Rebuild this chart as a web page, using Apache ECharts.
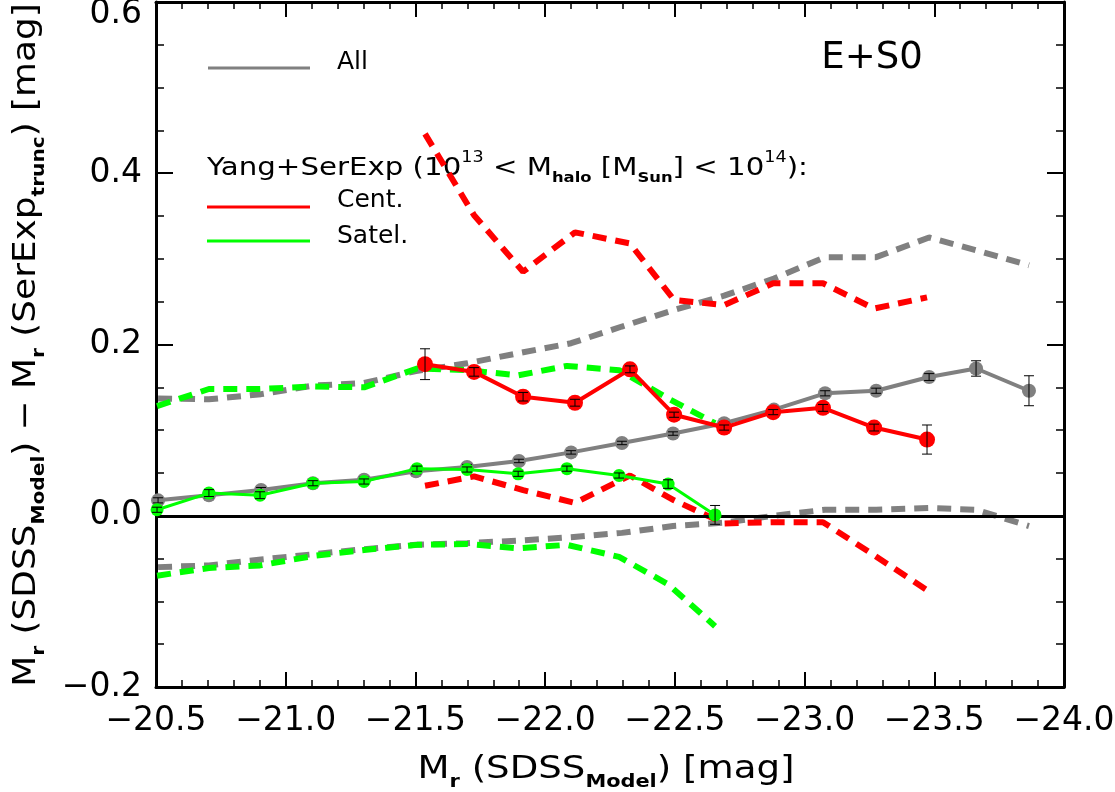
<!DOCTYPE html>
<html>
<head>
<meta charset="utf-8">
<script src="https://cdn.jsdelivr.net/npm/echarts@6/dist/echarts.min.js"></script>
<style>
  html, body { margin: 0; padding: 0; background: #fff; }
  #chart { width: 1115px; height: 792px; }
</style>
</head>
<body>
<div id="chart"></div>
<script>
// All galaxies (gray)
var xAll = [-20.508, -20.704, -20.905, -21.105, -21.302, -21.502, -21.699, -21.899, -22.10, -22.296, -22.493, -22.69, -22.882, -23.079, -23.276, -23.48, -23.661, -23.865];
var yAll = [0.018, 0.024, 0.030, 0.038, 0.042, 0.052, 0.057, 0.064, 0.074, 0.085, 0.096, 0.108, 0.124, 0.143, 0.146, 0.162, 0.172, 0.146];
var errAll = [0.003, 0.003, 0.003, 0.003, 0.003, 0.003, 0.003, 0.002, 0.002, 0.002, 0.002, 0.002, 0.002, 0.003, 0.003, 0.004, 0.009, 0.0175];
var hiAll = [0.137, 0.136, 0.142, 0.152, 0.155, 0.169, 0.178, 0.19, 0.2015, 0.221, 0.240, 0.257, 0.277, 0.302, 0.302, 0.325, 0.31, 0.2925];
var loAll = [-0.060, -0.058, -0.051, -0.045, -0.039, -0.034, -0.032, -0.029, -0.025, -0.020, -0.012, -0.008, 0.000, 0.007, 0.007, 0.009, 0.007, -0.012];

// centrals (red)
var xCen = [-21.537, -21.726, -21.915, -22.115, -22.327, -22.497, -22.69, -22.879, -23.071, -23.268, -23.472];
var yCen = [0.177, 0.168, 0.139, 0.132, 0.171, 0.118, 0.103, 0.121, 0.126, 0.103, 0.089];
var errCen = [0.018, 0.005, 0.005, 0.004, 0.004, 0.003, 0.003, 0.003, 0.004, 0.004, 0.017];
var hiCen = [0.446, 0.351, 0.285, 0.331, 0.318, 0.252, 0.246, 0.2715, 0.2715, 0.242, 0.255];
var loCen = [0.035, 0.046, 0.030, 0.015, 0.047, 0.018, -0.009, -0.0075, -0.0075, -0.046, -0.087];

// satellites (green)
var xSat = [-20.504, -20.704, -20.901, -21.105, -21.302, -21.506, -21.699, -21.896, -22.084, -22.285, -22.474, -22.655];
var ySat = [0.007, 0.0265, 0.024, 0.038, 0.040, 0.055, 0.054, 0.049, 0.055, 0.047, 0.037, 0.001];
var errSat = [0.003, 0.004, 0.004, 0.003, 0.003, 0.003, 0.003, 0.003, 0.003, 0.003, 0.005, 0.011];
var hiSat = [0.128, 0.148, 0.148, 0.151, 0.150, 0.172, 0.170, 0.164, 0.175, 0.170, 0.137, 0.108];
var loSat = [-0.070, -0.061, -0.058, -0.047, -0.040, -0.034, -0.033, -0.038, -0.034, -0.048, -0.080, -0.129];

var GRAY = '#808080', RED = '#ff0000', GREEN = '#00ff00';
var FONT = 'DejaVu Sans';

function pairs(xs, ys) {
  return xs.map(function (x, i) { return [x, ys[i]]; });
}
function triples(xs, ys, es) {
  return xs.map(function (x, i) { return [x, ys[i], es[i]]; });
}
function fmt(v) {
  return (v < 0 ? '\u2212' : '') + Math.abs(v).toFixed(1);
}

function dashed(xs, ys, color, z) {
  return {
    type: 'line', data: pairs(xs, ys), symbol: 'none', z: z,
    lineStyle: { color: color, width: 6, type: [14, 9] }
  };
}
function solid(xs, ys, color, size, width, z) {
  return {
    type: 'line', data: pairs(xs, ys), symbol: 'circle', symbolSize: size, z: z,
    lineStyle: { color: color, width: width },
    itemStyle: { color: color }
  };
}
function errbars(xs, ys, es, z) {
  return {
    type: 'custom', z: z,
    data: triples(xs, ys, es),
    renderItem: function (params, api) {
      var x = api.value(0), y = api.value(1), e = api.value(2);
      var t = api.coord([x, y + e]), b = api.coord([x, y - e]);
      var st = { stroke: '#000', lineWidth: 1 };
      return {
        type: 'group',
        children: [
          { type: 'line', shape: { x1: t[0], y1: t[1], x2: b[0], y2: b[1] }, style: st },
          { type: 'line', shape: { x1: t[0] - 5, y1: t[1], x2: t[0] + 5, y2: t[1] }, style: st },
          { type: 'line', shape: { x1: b[0] - 5, y1: b[1], x2: b[0] + 5, y2: b[1] }, style: st }
        ]
      };
    }
  };
}

var chart = echarts.init(document.getElementById('chart'));

var xBase = {
  type: 'value', min: -24, max: -20.5, interval: 0.5, inverse: true,
  splitLine: { show: false },
  axisLine: { show: true, onZero: false, lineStyle: { color: '#000', width: 3 } },
  axisTick: { show: true, inside: true, length: 15, lineStyle: { color: '#000', width: 2 } },
  minorTick: { show: true, splitNumber: 5, length: 7, lineStyle: { color: '#000', width: 1.5 } }
};
var yBase = {
  type: 'value', min: -0.2, max: 0.6, interval: 0.2,
  splitLine: { show: false },
  axisLine: { show: true, onZero: false, lineStyle: { color: '#000', width: 3 } },
  axisTick: { show: true, inside: true, length: 17, lineStyle: { color: '#000', width: 2 } },
  minorTick: { show: true, splitNumber: 4, length: 8, lineStyle: { color: '#000', width: 1.5 } }
};

var titleRich = {
  n: { fontFamily: FONT, fontSize: 32, lineHeight: 42, fill: '#000' },
  s: { fontFamily: FONT, fontSize: 18, fontWeight: 'bold', lineHeight: 18, verticalAlign: 'bottom', fill: '#000' }
};

var option = {
  animation: false,
  backgroundColor: '#fff',
  grid: { left: 156, right: 51, top: 2, bottom: 105, containLabel: false, outerBoundsMode: 'none' },
  xAxis: [
    Object.assign({}, xBase, {
      position: 'bottom',
      axisLabel: { fontFamily: FONT, fontSize: 33, color: '#000', margin: 18, formatter: fmt }
    }),
    Object.assign({}, xBase, { position: 'top', axisLabel: { show: false } })
  ],
  yAxis: [
    Object.assign({}, yBase, {
      position: 'left',
      axisLabel: {
        fontFamily: FONT, fontSize: 33, color: '#000', margin: 14,
        // top label sits just inside the frame, as in the original
        formatter: function (v) { return v > 0.59 ? '{t|' + fmt(v) + '}' : fmt(v); },
        rich: { t: { fontFamily: FONT, fontSize: 33, color: '#000', padding: [24, 0, 0, 0] } }
      }
    }),
    Object.assign({}, yBase, { position: 'right', axisLabel: { show: false } })
  ],
  graphic: [
    // axis titles
    {
      type: 'text', x: 606, y: 770, scaleX: 1.16,
      style: {
        text: '{n|M}{s|r}{n| (SDSS}{s|Model}{n|) [mag]}',
        align: 'center', verticalAlign: 'middle', rich: titleRich
      }
    },
    {
      type: 'text', x: 27, y: 345, rotation: Math.PI / 2, scaleX: 1.12,
      style: {
        text: '{n|M}{s|r}{n| (SDSS}{s|Model}{n|) \u2212 M}{s|r}{n| (SerExp}{s|trunc}{n|) [mag]}',
        align: 'center', verticalAlign: 'middle', rich: titleRich
      }
    },
    // legend block
    { type: 'line', shape: { x1: 208, y1: 68, x2: 310, y2: 68 }, style: { stroke: GRAY, lineWidth: 3 } },
    { type: 'text', x: 337, y: 62, style: { text: 'All', font: '25px "DejaVu Sans"', fill: '#000', verticalAlign: 'middle' } },
    { type: 'text', x: 872, y: 58, style: { text: 'E+S0', font: '37px "DejaVu Sans"', fill: '#000', align: 'center', verticalAlign: 'middle' } },
    {
      type: 'text', x: 207, y: 168, scaleX: 1.17,
      style: {
        text: '{n|Yang+SerExp (10}{p|13}{n| < M}{s|halo}{n| [M}{s|Sun}{n|] < 10}{p|14}{n|):}',
        verticalAlign: 'middle',
        rich: {
          n: { fontFamily: FONT, fontSize: 25, lineHeight: 34, fill: '#000' },
          s: { fontFamily: FONT, fontSize: 14, fontWeight: 'bold', lineHeight: 14, verticalAlign: 'bottom', fill: '#000' },
          p: { fontFamily: FONT, fontSize: 15, lineHeight: 15, verticalAlign: 'top', fill: '#000' }
        }
      }
    },
    { type: 'line', shape: { x1: 207, y1: 207, x2: 310, y2: 207 }, style: { stroke: RED, lineWidth: 3 } },
    { type: 'text', x: 337, y: 200, style: { text: 'Cent.', font: '25px "DejaVu Sans"', fill: '#000', verticalAlign: 'middle' } },
    { type: 'line', shape: { x1: 207, y1: 241, x2: 310, y2: 241 }, style: { stroke: GREEN, lineWidth: 3 } },
    { type: 'text', x: 337, y: 236, style: { text: 'Satel.', font: '25px "DejaVu Sans"', fill: '#000', verticalAlign: 'middle' } }
  ],
  series: [
    dashed(xAll, hiAll, GRAY, 2),
    dashed(xAll, loAll, GRAY, 2),
    dashed(xSat, hiSat, GREEN, 3),
    dashed(xSat, loSat, GREEN, 3),
    dashed(xCen, hiCen, RED, 3),
    dashed(xCen, loCen, RED, 3),
    Object.assign(solid(xAll, yAll, GRAY, 14, 4, 4), {
      markLine: {
        silent: true, symbol: 'none', label: { show: false },
        lineStyle: { color: '#000', width: 3, type: 'solid' },
        data: [{ yAxis: 0 }]
      }
    }),
    errbars(xAll, yAll, errAll, 5),
    solid(xSat, ySat, GREEN, 13, 3, 6),
    errbars(xSat, ySat, errSat, 7),
    solid(xCen, yCen, RED, 16, 4, 8),
    errbars(xCen, yCen, errCen, 9)
  ]
};

chart.setOption(option);
</script>
</body>
</html>
